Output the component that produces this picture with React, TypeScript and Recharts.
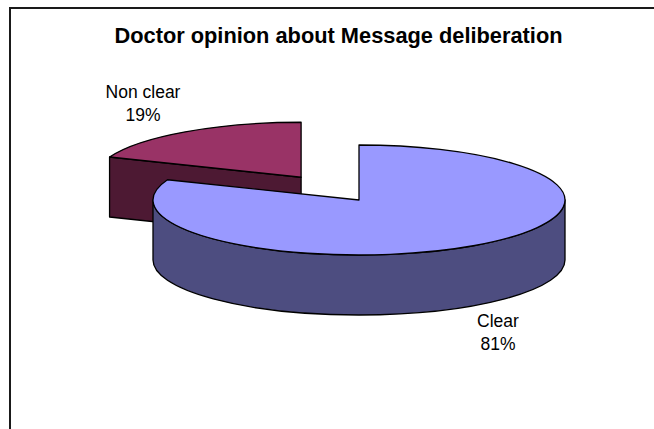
import React from "react";
import { PieChart, Pie, Cell } from "recharts";

const categories = ["Non clear", "Clear"];
const shares = [19, 81];
const topColors = ["#993366", "#9999ff"];
const wallColors = ["#4d1933", "#4d4d80"];
const chartTitle = "Doctor opinion about Message deliberation";

const tableRows = categories.map((name, i) => ({ name, value: shares[i] }));

const CX = 359;
const CY = 200;
const RX = 206;
const SQUASH = 55 / 206;
const DEPTH = 60;
const EXPLODE = 103;
const RAD = Math.PI / 180;

const font = "'Liberation Sans', Arial, sans-serif";

// Point on the tilted rim for a polar angle given in degrees.
const rim = (cx: number, cy: number, angle: number) => [
  cx + RX * Math.cos(angle * RAD),
  cy - RX * SQUASH * Math.sin(angle * RAD),
];

const exploded = (name: string, mid: number) =>
  name === "Non clear"
    ? [EXPLODE * Math.cos(mid * RAD), -EXPLODE * SQUASH * Math.sin(mid * RAD)]
    : [0, 0];

function Slice3D(props: any) {
  const { cx, cy, startAngle, endAngle, midAngle, name, index } = props;
  const [dx, dy] = exploded(name, midAngle);
  const x0 = cx + dx;
  const y0 = cy + dy;
  const [sx, sy] = rim(x0, y0, startAngle);
  const [ex, ey] = rim(x0, y0, endAngle);
  const ry = RX * SQUASH;
  const large = Math.abs(startAngle - endAngle) > 180 ? 1 : 0;
  const top = `M${x0},${y0}L${sx},${sy}A${RX},${ry} 0 ${large} 1 ${ex},${ey}Z`;

  // The rim wall of the large slice shows along the lower half of the ellipse.
  const outer = `M${x0 - RX},${y0}A${RX},${ry} 0 0 0 ${x0 + RX},${y0}L${x0 + RX},${y0 + DEPTH}A${RX},${ry} 0 0 1 ${x0 - RX},${y0 + DEPTH}Z`;
  // The small slice shows the flat cut face running from its apex to the left rim.
  const cutFace = `M${x0},${y0}L${sx},${sy}L${sx},${sy + DEPTH}L${x0},${y0 + DEPTH}Z`;
  const line = { stroke: "#000", strokeWidth: 1.3, strokeLinejoin: "round" as const };
  const wall = wallColors[index];

  return (
    <g>
      <path d={name === "Non clear" ? cutFace : outer} fill={wall} {...line} />
      <path d={top} fill={topColors[index]} {...line} />
    </g>
  );
}

function SliceLabel(props: any) {
  const { name, value, index } = props;
  const anchorX = index === 0 ? 143 : 498;
  const anchorY = index === 0 ? 98 : 327;
  return (
    <text x={anchorX} y={anchorY} textAnchor="middle" fontFamily={font} fontSize={17.5} fill="#000">
      <tspan x={anchorX} y={anchorY}>{name}</tspan>
      <tspan x={anchorX} y={anchorY + 23}>{`${value}%`}</tspan>
    </text>
  );
}

export default function App() {
  return (
    <div style={{ position: "absolute", left: 0, top: 0, width: 654, height: 429, background: "#fff", overflow: "hidden" }}>
      <svg width={654} height={429} style={{ position: "absolute", left: 0, top: 0 }}>
        <rect x={10} y={8} width={700} height={500} fill="#fff" stroke="#1a1a1a" strokeWidth={2} />
        <text x={338.5} y={43} textAnchor="middle" fontFamily={font} fontWeight="bold" fontSize={21.8} fill="#000">
          {chartTitle}
        </text>
      </svg>
      <PieChart width={654} height={429} style={{ position: "absolute", left: 0, top: 0 }} margin={{ top: 0, right: 0, bottom: 0, left: 0 }}>
        <Pie
          data={tableRows}
          dataKey="value"
          nameKey="name"
          cx={CX}
          cy={CY}
          innerRadius={0}
          outerRadius={RX}
          startAngle={158.4}
          endAngle={-201.6}
          paddingAngle={0}
          isAnimationActive={false}
          shape={Slice3D}
          label={SliceLabel}
          labelLine={false}
        >
          {tableRows.map((row, i) => (
            <Cell key={row.name} fill={topColors[i]} />
          ))}
        </Pie>
      </PieChart>
    </div>
  );
}
